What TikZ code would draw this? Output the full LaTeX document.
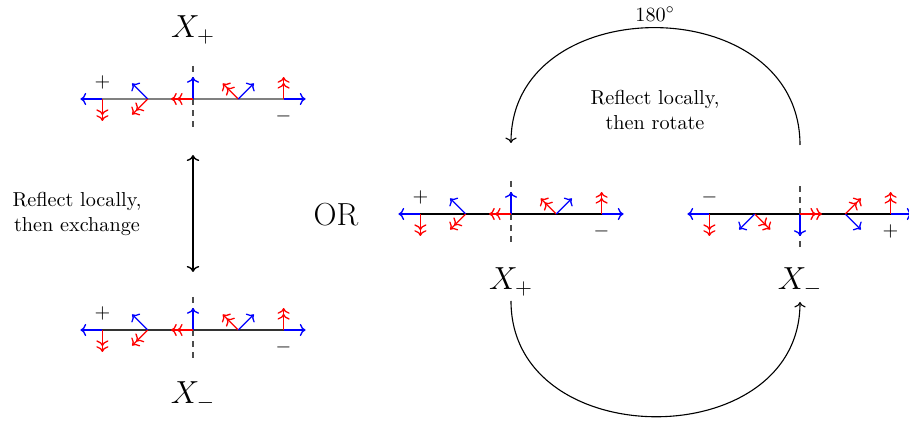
\documentclass[tikz,border=0pt]{standalone}
\usetikzlibrary{arrows.meta}
\begin{document}
\begin{tikzpicture}[x=0.5417pt,y=-0.5417pt,
  >={To[scale=1.0]},
  big/.style={font=\fontsize{17.28}{20}\selectfont},
  txt/.style={font=\fontsize{10.95}{13.6}\selectfont, align=center},
  rowline/.style={draw=black},
  redarr/.style={draw=red, line width=0.7pt, ->>},
  bluearr/.style={draw=blue, line width=0.7pt, ->},
  curve/.style={line width=0.6pt, ->},
  flagrow/.pic={
    \draw[rowline, line width=0.55pt] (-90.6,0) -- (90.6,0);
    \draw[dashed, draw=black!70, line width=0.55pt] (0,-33) -- (0,33);
    % point 1
    \draw[bluearr] (-90.6,0) -- (-112.6,0);
    \draw[redarr] (-90.6,0) -- (-90.6,22);
    % point 2
    \draw[bluearr] (-45.3,0) -- (-60.9,-15.6);
    \draw[redarr] (-45.3,0) -- (-60.9,15.6);
    % point 3
    \draw[bluearr] (0,0) -- (0,-22);
    \draw[redarr] (0,0) -- (-22,0);
    % point 4
    \draw[redarr] (45.3,0) -- (29.7,-15.6);
    \draw[bluearr] (45.3,0) -- (60.9,-15.6);
    % point 5
    \draw[redarr] (90.6,0) -- (90.6,-22);
    \draw[bluearr] (90.6,0) -- (112.6,0);
    \node[txt] at (-90.6,-17) {$+$};
    \node[txt] at (90.6,17) {$-$};
  }]
\useasboundingbox (0,0) rectangle (909,423);

\pic[rowline/.style={draw=gray}] at (193,99) {flagrow};
\pic[rowline/.style={draw=black!80}] at (193,330) {flagrow};
\pic at (511,214) {flagrow};
\pic[rotate=180] at (800,214) {flagrow};

\node[big] (xpl) at (193,30) {$X_+$};
\node[big] (xml) at (193,396) {$X_-$};
\node[big] (xpr) at (511,282) {$X_+$};
\node[big] (xmr) at (800,282) {$X_-$};
\node[big] (or) at (336,215) {OR};
\node[txt] (ex) at (77,214) {Reflect locally,\\then exchange};
\node[txt] (rot) at (655,110) {Reflect locally,\\then rotate};
\node[txt] (deg) at (655,14) {$180^\circ$};

\coordinate (va) at (193,155);
\coordinate (vb) at (193,272);
\draw[<->, line width=0.75pt] (va) -- (vb);

\coordinate (ts) at (800,145);
\coordinate (te) at (511,143);
\draw[curve] (ts) .. controls (800,-11) and (511,-11) .. (te);

\coordinate (bs) at (511,301);
\coordinate (be) at (800,302);
\draw[curve] (bs) .. controls (511,455) and (800,455) .. (be);
\end{tikzpicture}
\end{document}
